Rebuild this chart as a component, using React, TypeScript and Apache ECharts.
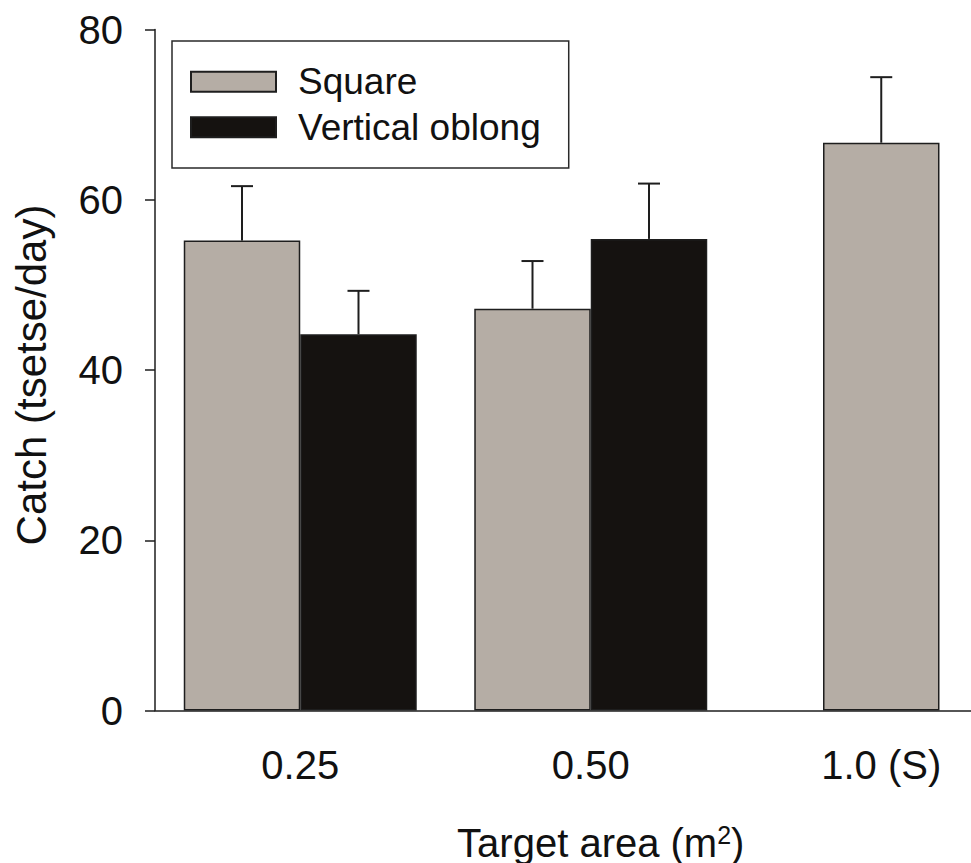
import React, { useEffect, useRef } from "react";
import * as echarts from "echarts";

const categories = ["0.25", "0.50", "1.0 (S)"];
const squareValues = [55.2, 47.2];
const squareErrors = [6.4, 5.6];
const oblongValues = [44.2, 55.4];
const oblongErrors = [5.1, 6.5];
const squareOnlyValue = 66.7;
const squareOnlyError = 7.7;
const yTicks = [0, 20, 40, 60, 80];

const FONT = "'Liberation Sans', Arial, Helvetica, sans-serif";
const SQUARE_COLOR = "#b5ada5";
const OBLONG_COLOR = "#151210";
const EDGE = "#1e1e1e";
const BAR_FRACTION = 0.401;

export default function App() {
  const ref = useRef<HTMLDivElement>(null);

  useEffect(() => {
    if (!ref.current) return;
    const chart = echarts.init(ref.current, undefined, { renderer: "svg" });

    // error bar items: [categoryIndex, value, error, shift]
    const errItems: number[][] = [];
    squareValues.forEach((v, i) => errItems.push([i, v, squareErrors[i], -1]));
    oblongValues.forEach((v, i) => errItems.push([i, v, oblongErrors[i], 1]));
    errItems.push([2, squareOnlyValue, squareOnlyError, 0]);

    const pairedSquare = categories.map((_, i) =>
      i < squareValues.length ? squareValues[i] : "-"
    );
    const pairedOblong = categories.map((_, i) =>
      i < oblongValues.length ? oblongValues[i] : "-"
    );
    const singleSquare = categories.map((_, i) =>
      i === categories.length - 1 ? squareOnlyValue : "-"
    );

    const option: any = {
      animation: false,
      backgroundColor: "#ffffff",
      textStyle: { fontFamily: FONT },
      grid: {
        left: 155,
        top: 29.5,
        width: 871.5,
        height: 681,
        containLabel: false,
        outerBoundsMode: "none",
      },
      legend: {
        data: ["Square", "Vertical oblong"],
        orient: "vertical",
        left: 172,
        top: 41,
        icon: "rect",
        itemWidth: 85,
        itemHeight: 20,
        itemGap: 8.5,
        padding: [22.25, 28, 22.25, 18],
        borderColor: "#2a2a2a",
        borderWidth: 1.5,
        selectedMode: false,
        textStyle: {
          fontFamily: FONT,
          fontSize: 37,
          lineHeight: 37,
          color: "#111111",
          padding: [0, 0, 0, 17],
        },
      },
      xAxis: [
        {
          type: "category",
          data: categories,
          boundaryGap: true,
          axisLine: { lineStyle: { color: EDGE, width: 1.5 } },
          axisTick: {
            alignWithLabel: true,
            length: 10,
            lineStyle: { color: EDGE, width: 1.5 },
          },
          axisLabel: {
            fontFamily: FONT,
            fontSize: 40,
            lineHeight: 40,
            color: "#111111",
            margin: 34,
          },
          splitLine: { show: false },
          name: "Target area (m{sup|2})",
          nameLocation: "middle",
          nameGap: 112,
          nameTextStyle: {
            fontFamily: FONT,
            fontSize: 40,
            lineHeight: 40,
            color: "#111111",
            padding: [0, 0, 0, 20],
            rich: {
              sup: {
                fontFamily: FONT,
                fontSize: 25,
                lineHeight: 26,
                verticalAlign: "top",
                color: "#111111",
              },
            },
          },
        },
        {
          type: "category",
          data: categories,
          show: false,
          gridIndex: 0,
        },
      ],
      yAxis: {
        type: "value",
        min: yTicks[0],
        max: yTicks[yTicks.length - 1],
        interval: yTicks[1] - yTicks[0],
        axisLine: { show: true, lineStyle: { color: EDGE, width: 1.5 } },
        axisTick: { show: true, length: 10, lineStyle: { color: EDGE, width: 1.5 } },
        axisLabel: {
          fontFamily: FONT,
          fontSize: 40,
          color: "#111111",
          margin: 32,
        },
        splitLine: { show: false },
        name: "Catch (tsetse/day)",
        nameLocation: "middle",
        nameGap: 103,
        nameTextStyle: {
          fontFamily: FONT,
          fontSize: 42,
          lineHeight: 42,
          color: "#111111",
          padding: [0, 10, 0, 0],
        },
      },
      series: [
        {
          name: "Square",
          type: "bar",
          xAxisIndex: 0,
          data: pairedSquare,
          barWidth: BAR_FRACTION * 100 + "%",
          barGap: "0%",
          itemStyle: { color: SQUARE_COLOR, borderColor: EDGE, borderWidth: 1.5 },
        },
        {
          name: "Vertical oblong",
          type: "bar",
          xAxisIndex: 0,
          data: pairedOblong,
          barWidth: BAR_FRACTION * 100 + "%",
          barGap: "0%",
          itemStyle: { color: OBLONG_COLOR, borderColor: EDGE, borderWidth: 1.5 },
        },
        {
          name: "Square",
          type: "bar",
          xAxisIndex: 1,
          data: singleSquare,
          barWidth: BAR_FRACTION * 100 + "%",
          itemStyle: { color: SQUARE_COLOR, borderColor: EDGE, borderWidth: 1.5 },
        },
        {
          name: "error",
          type: "custom",
          xAxisIndex: 0,
          yAxisIndex: 0,
          z: 5,
          data: errItems,
          renderItem: (params: any, api: any) => {
            const idx = api.value(0);
            const val = api.value(1);
            const err = api.value(2);
            const shift = api.value(3);
            const band = api.size([1, 0])[0];
            const dx = (shift * band * BAR_FRACTION) / 2;
            const base = api.coord([idx, val]);
            const top = api.coord([idx, val + err]);
            const x = base[0] + dx;
            const style = { stroke: EDGE, lineWidth: 2 };
            return {
              type: "group",
              children: [
                {
                  type: "line",
                  shape: { x1: x, y1: base[1], x2: x, y2: top[1] },
                  style,
                },
                {
                  type: "line",
                  shape: { x1: x - 11, y1: top[1], x2: x + 11, y2: top[1] },
                  style,
                },
              ],
            };
          },
        },
      ],
    };

    chart.setOption(option);
    return () => chart.dispose();
  }, []);

  return (
    <div
      ref={ref}
      style={{ position: "absolute", left: 0, top: 0, width: 971, height: 863 }}
    />
  );
}
